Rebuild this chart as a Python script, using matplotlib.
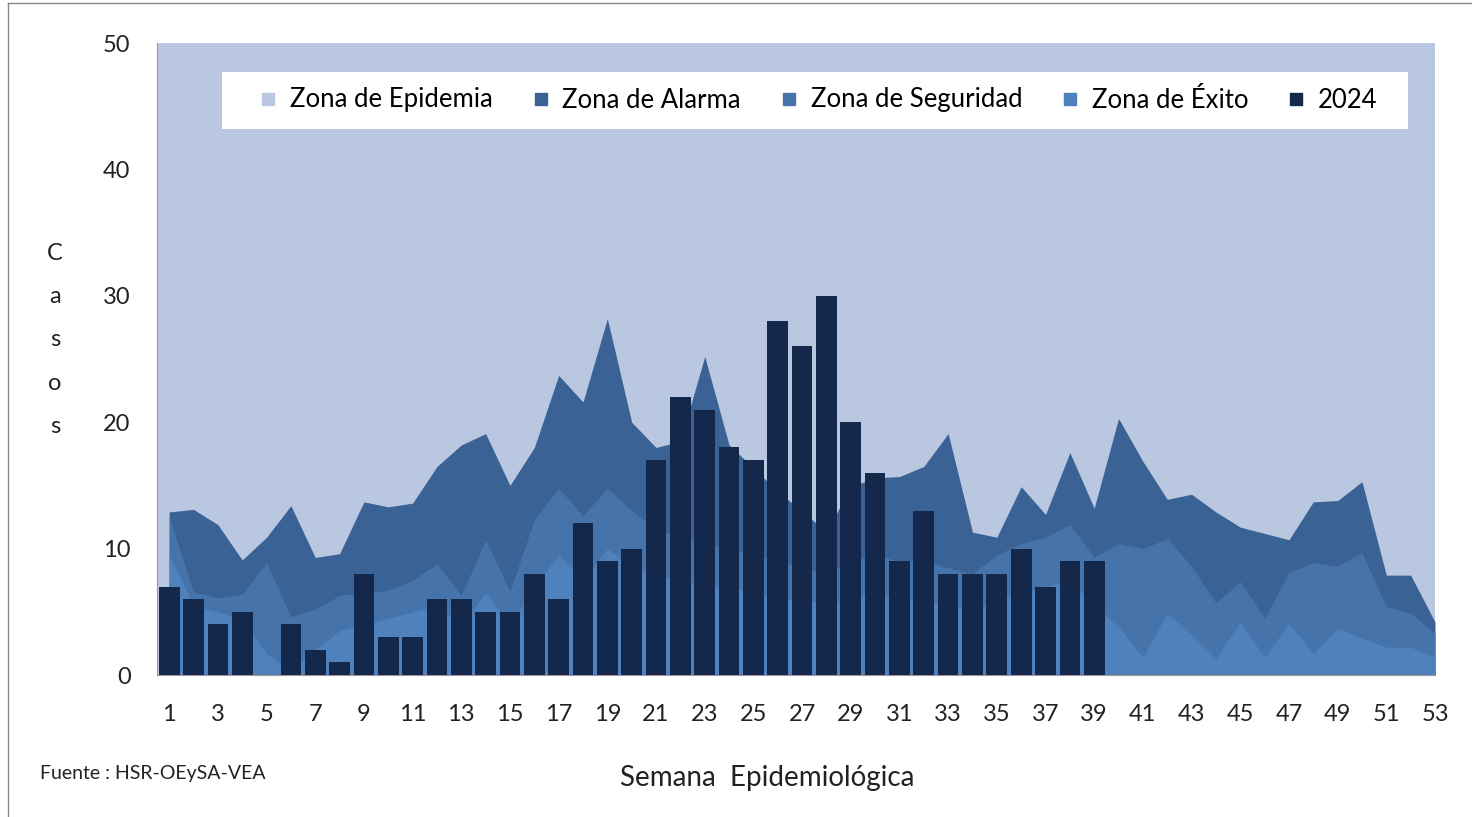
import numpy as np
import matplotlib
matplotlib.use("Agg")
import matplotlib.pyplot as plt
from matplotlib.lines import Line2D
from matplotlib.patches import Rectangle

# semanas epidemiologicas
weeks = np.arange(1, 54)
tick_weeks = np.arange(1, 54, 2)

# canal endemico
epidemia = [50] * 53
alarma = [12.9, 13.1, 11.9, 9.1, 10.9, 13.4, 9.3, 9.6, 13.7, 13.3,
          13.6, 16.5, 18.2, 19.1, 15.0, 18.0, 23.7, 21.6, 28.2, 20.0,
          18.0, 18.5, 25.2, 18.2, 16.4, 14.5, 13.0, 11.3, 14.9, 15.6,
          15.7, 16.5, 19.1, 11.3, 10.9, 14.9, 12.7, 17.6, 13.2, 20.3,
          16.9, 13.9, 14.3, 12.9, 11.7, 11.2, 10.7, 13.7, 13.8, 15.3,
          7.9, 7.9, 4.2]
seguridad = [12.5, 6.6, 6.1, 6.4, 8.9, 4.6, 5.2, 6.3, 6.5, 6.7,
             7.5, 8.8, 6.3, 10.7, 6.6, 12.3, 14.8, 12.6, 14.8, 13.0,
             11.5, 11.0, 10.5, 10.0, 9.5, 9.0, 8.5, 8.0, 9.0, 9.5,
             9.0, 9.0, 8.5, 8.0, 9.5, 10.4, 10.9, 11.9, 9.3, 10.4,
             10.0, 10.8, 8.6, 5.7, 7.4, 4.5, 8.1, 8.9, 8.6, 9.7,
             5.4, 4.9, 3.3]
exito = [9.5, 5.5, 5.0, 4.4, 1.7, 0.3, 2.0, 3.5, 4.0, 4.5,
         5.0, 5.5, 4.0, 6.5, 4.0, 7.0, 9.5, 7.5, 10.0, 8.5,
         8.0, 7.5, 7.0, 7.0, 6.5, 6.0, 6.0, 5.5, 6.0, 6.5,
         6.0, 6.0, 5.5, 5.0, 6.0, 6.5, 7.0, 7.5, 5.5, 3.8,
         1.4, 4.9, 3.2, 1.3, 4.2, 1.4, 4.1, 1.7, 3.7, 2.9,
         2.2, 2.2, 1.4]

# casos 2024 (semanas 1-39)
casos_2024 = [7, 6, 4, 5, 0, 4, 2, 1, 8, 3, 3, 6, 6, 5, 5, 8, 6, 12, 9, 10,
              17, 22, 21, 18, 17, 28, 26, 30, 20, 16, 9, 13, 8, 8, 8, 10, 7, 9, 9]
weeks_2024 = np.arange(1, len(casos_2024) + 1)

c_epi = "#BAC7E0"
c_ala = "#3B6294"
c_seg = "#4573AA"
c_exi = "#4F81BD"
c_bar = "#13284A"

plt.rcParams['font.family'] = ['Lato', 'DejaVu Sans']

W, H = 1472, 817
fig = plt.figure(figsize=(W / 100, H / 100), dpi=100)
ax = fig.add_axes([157 / W, 1 - 675 / H, (1435 - 157) / W, (675 - 43) / H])

ax.fill_between(weeks, 0, epidemia, color=c_epi, lw=0, label="Zona de Epidemia")
ax.fill_between(weeks, 0, alarma, color=c_ala, lw=0, label="Zona de Alarma")
ax.fill_between(weeks, 0, seguridad, color=c_seg, lw=0, label="Zona de Seguridad")
ax.fill_between(weeks, 0, exito, color=c_exi, lw=0, label="Zona de Éxito")
ax.bar(weeks_2024, casos_2024, width=0.85, color=c_bar, label="2024", zorder=3)

ax.set_facecolor(c_epi)
ax.set_xlim(0.5, 53)
ax.set_ylim(0, 50)
ax.set_yticks(np.arange(0, 51, 10))
ax.set_xticks(tick_weeks)
ax.tick_params(axis='both', length=0, labelsize=17, colors="#222222")
ax.tick_params(axis='x', pad=21)
ax.tick_params(axis='y', pad=19)
for s in ["top", "right"]:
    ax.spines[s].set_visible(False)
ax.spines["left"].set_color("#9a9a9a")
ax.spines["bottom"].set_color("#9a9a9a")

# caja blanca de la leyenda
fig.add_artist(Rectangle((222 / W, 1 - 129 / H), (1408 - 222) / W, 57 / H,
                         transform=fig.transFigure, facecolor="white",
                         edgecolor="none", zorder=4))
handles = [Line2D([], [], marker='s', ls='', markersize=9, color=c)
           for c in [c_epi, c_ala, c_seg, c_exi, c_bar]]
labels = ["Zona de Epidemia", "Zona de Alarma", "Zona de Seguridad", "Zona de Éxito", "2024"]
leg = fig.legend(handles, labels, ncol=5, loc='center left',
                 bbox_to_anchor=(258 / W, 1 - 100 / H),
                 borderaxespad=0, borderpad=0, frameon=False, fontsize=18.5,
                 handletextpad=0.45, columnspacing=1.46, handlelength=0.8)
leg.set_zorder(5)

fig.text(55 / W, 1 - 340 / H, "C\na\ns\no\ns", ha='center', va='center',
         fontsize=17, linespacing=2.3, color="#222222")
fig.text(767 / W, 1 - 778 / H, "Semana  Epidemiológica", ha='center', va='center',
         fontsize=20, color="#222222")
fig.text(40 / W, 1 - 773 / H, "Fuente : HSR-OEySA-VEA", ha='left', va='center',
         fontsize=14, color="#222222")

fig.add_artist(Line2D([8 / W, 8 / W], [0, 1 - 3 / H], color="#888888", lw=1))
fig.add_artist(Line2D([8 / W, 1], [1 - 3 / H, 1 - 3 / H], color="#888888", lw=1))

fig.savefig("out.png", dpi=100)
